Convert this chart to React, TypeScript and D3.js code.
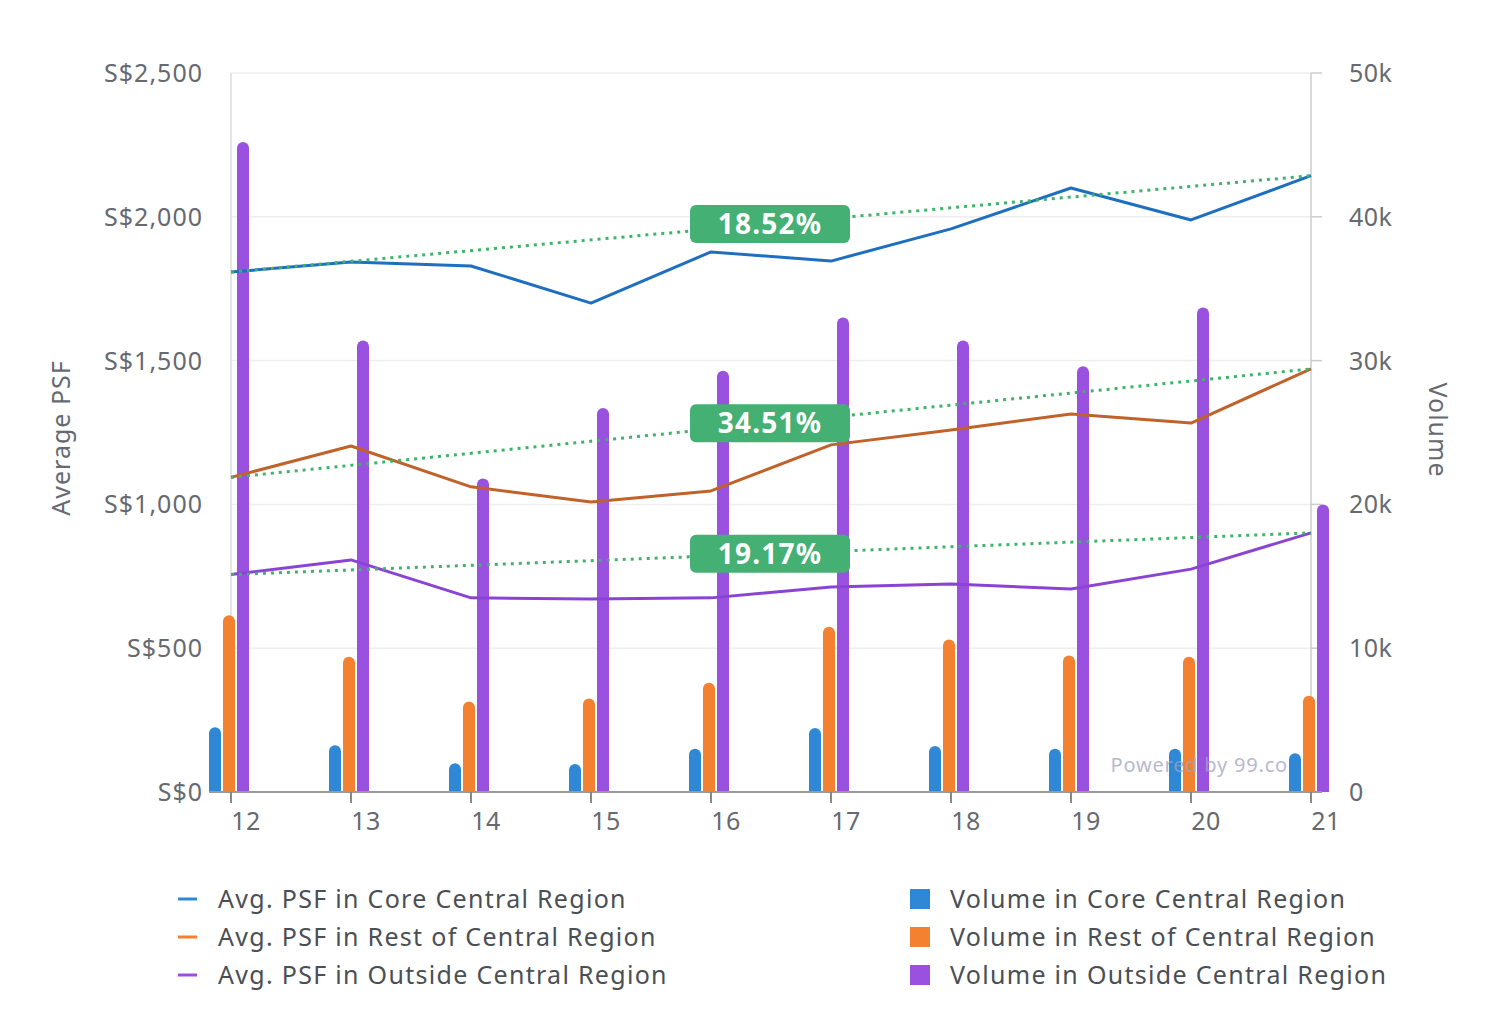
import React from "react";
import * as d3 from "d3";

const categories = ["12", "13", "14", "15", "16", "17", "18", "19", "20", "21"];

const psfCore = [1808, 1843, 1829, 1700, 1878, 1846, 1958, 2100, 1989, 2143];
const psfRest = [1094, 1203, 1061, 1008, 1047, 1207, 1259, 1314, 1283, 1471];
const psfOutside = [756, 807, 675, 671, 675, 713, 723, 706, 775, 901];

const volCore = [4500, 3250, 2000, 1950, 3000, 4450, 3200, 3000, 3000, 2700];
const volRest = [12300, 9400, 6300, 6500, 7600, 11500, 10600, 9500, 9400, 6700];
const volOutside = [45200, 31400, 21800, 26700, 29300, 33000, 31400, 29600, 33700, 20000];

const trendLabels = ["18.52%", "34.51%", "19.17%"];

const psfTicks = [0, 500, 1000, 1500, 2000, 2500];
const volTicks = [0, 10000, 20000, 30000, 40000, 50000];

const lineNames = [
  "Avg. PSF in Core Central Region",
  "Avg. PSF in Rest of Central Region",
  "Avg. PSF in Outside Central Region",
];
const barNames = [
  "Volume in Core Central Region",
  "Volume in Rest of Central Region",
  "Volume in Outside Central Region",
];

const lineColors = ["#1f6fc0", "#c0622a", "#8a44d4"];
const legendLineColors = ["#2e88d6", "#f38130", "#9b51e0"];
const barColors = ["#2e88d6", "#f38130", "#9b51e0"];
const trendColor = "#3db36b";
const labelBg = "#45b073";
const FONT = "'Noto Sans', 'Open Sans', sans-serif";

function roundTopRect(x: number, y: number, w: number, h: number, r: number) {
  const rr = Math.min(r, w / 2, h);
  return `M${x},${y + h}V${y + rr}A${rr},${rr} 0 0 1 ${x + rr},${y}H${x + w - rr}A${rr},${rr} 0 0 1 ${x + w},${y + rr}V${y + h}Z`;
}

export default function App() {
  const left = 231, right = 1311, top = 73, bottom = 792;
  const x = d3.scalePoint<string>().domain(categories).range([left, right]);
  const yP = d3.scaleLinear().domain([0, 2500]).range([bottom, top]);
  const yV = d3.scaleLinear().domain([0, 50000]).range([bottom, top]);
  const sub = d3.scaleBand<number>().domain([0, 1, 2]).range([-23, 19]);

  const lines = [psfCore, psfRest, psfOutside];
  const vols = [volCore, volRest, volOutside];
  const lineGen = d3
    .line<number>()
    .x((_, i) => x(categories[i]) as number)
    .y((d) => yP(d));

  const fmtP = (v: number) => "S$" + d3.format(",")(v);
  const fmtV = (v: number) => (v === 0 ? "0" : v / 1000 + "k");

  return (
    <svg
      width={1508}
      height={1032}
      style={{ position: "absolute", left: 0, top: 0, background: "#fff" }}
      fontFamily={FONT}
    >
      {/* grid */}
      {psfTicks.map((t) => (
        <line key={"g" + t} x1={left} x2={right} y1={yP(t)} y2={yP(t)} stroke="#eeeeee" strokeWidth={1.5} />
      ))}
      {/* left axis line */}
      <line x1={left} x2={left} y1={top} y2={bottom} stroke="#dddddd" strokeWidth={1.5} />
      {/* right axis line + ticks */}
      <line x1={right} x2={right} y1={top} y2={bottom} stroke="#cccccc" strokeWidth={1.5} />
      {volTicks.map((t) => (
        <line key={"rt" + t} x1={right} x2={right + 11} y1={yV(t)} y2={yV(t)} stroke="#cccccc" strokeWidth={1.5} />
      ))}
      {/* left labels */}
      {psfTicks.map((t) => (
        <text key={"lt" + t} x={203} y={yP(t) + 9} textAnchor="end" fontSize={25} letterSpacing={1} fill="#666a70">
          {fmtP(t)}
        </text>
      ))}
      {/* right labels */}
      {volTicks.map((t) => (
        <text key={"rl" + t} x={1349} y={yV(t) + 9} textAnchor="start" fontSize={25} letterSpacing={0.5} fill="#666a70">
          {fmtV(t)}
        </text>
      ))}
      {/* axis titles */}
      <text transform="translate(70,438) rotate(-90)" textAnchor="middle" fontSize={25} letterSpacing={1} fill="#666a70">
        Average PSF
      </text>
      <text transform="translate(1429,430) rotate(90)" textAnchor="middle" fontSize={25} letterSpacing={1} fill="#666a70">
        Volume
      </text>

      {/* bars */}
      {vols.map((vs, s) =>
        vs.map((v, i) => {
          const bx = (x(categories[i]) as number) + (sub(s) as number) + 1;
          const by = yV(v);
          return (
            <path
              key={`b${s}-${i}`}
              d={roundTopRect(bx, by, 12, bottom - by, 6)}
              fill={barColors[s]}
            />
          );
        })
      )}

      {/* x axis */}
      <line x1={209} x2={1322} y1={bottom} y2={bottom} stroke="#999999" strokeWidth={2} />
      {categories.map((c) => (
        <g key={"xt" + c}>
          <line x1={x(c)} x2={x(c)} y1={bottom} y2={bottom + 11} stroke="#888888" strokeWidth={2} />
          <text x={(x(c) as number) + 15} y={bottom + 38} textAnchor="middle" fontSize={25} letterSpacing={0.5} fill="#666a70">
            {c}
          </text>
        </g>
      ))}

      {/* lines */}
      {lines.map((ls, s) => (
        <path key={"l" + s} d={lineGen(ls) || ""} fill="none" stroke={lineColors[s]} strokeWidth={3} strokeLinejoin="round" />
      ))}
      {/* trend lines */}
      {lines.map((ls, s) => {
        const x1 = x(categories[0]) as number;
        const x2 = x(categories[categories.length - 1]) as number;
        const y1 = yP(ls[0]);
        const y2 = yP(ls[ls.length - 1]);
        return (
          <line key={"t" + s} x1={x1} x2={x2} y1={y1} y2={y2} stroke={trendColor} strokeWidth={3} strokeDasharray="3,5" />
        );
      })}
      {/* trend labels */}
      {lines.map((ls, s) => {
        const x1 = x(categories[0]) as number;
        const x2 = x(categories[categories.length - 1]) as number;
        const cx = 770;
        const t = (cx - x1) / (x2 - x1);
        const cy = yP(ls[0]) + (yP(ls[ls.length - 1]) - yP(ls[0])) * t;
        return (
          <g key={"tl" + s}>
            <rect x={cx - 80} y={cy - 19} width={160} height={38} rx={6} fill={labelBg} />
            <text x={cx} y={cy + 10} textAnchor="middle" fontSize={28} fontWeight={700} fill="#ffffff" letterSpacing={1.2}>
              {trendLabels[s]}
            </text>
          </g>
        );
      })}

      {/* watermark */}
      <text x={1288} y={772} textAnchor="end" fontSize={20} letterSpacing={0.8} fill="#9ea3c0" opacity={0.75}>
        Powered by 99.co
      </text>

      {/* legend */}
      {lineNames.map((n, i) => (
        <g key={"ll" + i}>
          <line x1={178} x2={197} y1={899 + i * 38} y2={899 + i * 38} stroke={legendLineColors[i]} strokeWidth={3} />
          <text x={218} y={908 + i * 38} fontSize={25} letterSpacing={1.3} fill="#4a4f55">
            {n}
          </text>
        </g>
      ))}
      {barNames.map((n, i) => (
        <g key={"bl" + i}>
          <rect x={910} y={889 + i * 38} width={20} height={20} fill={barColors[i]} />
          <text x={950} y={908 + i * 38} fontSize={25} letterSpacing={1.3} fill="#4a4f55">
            {n}
          </text>
        </g>
      ))}
    </svg>
  );
}
